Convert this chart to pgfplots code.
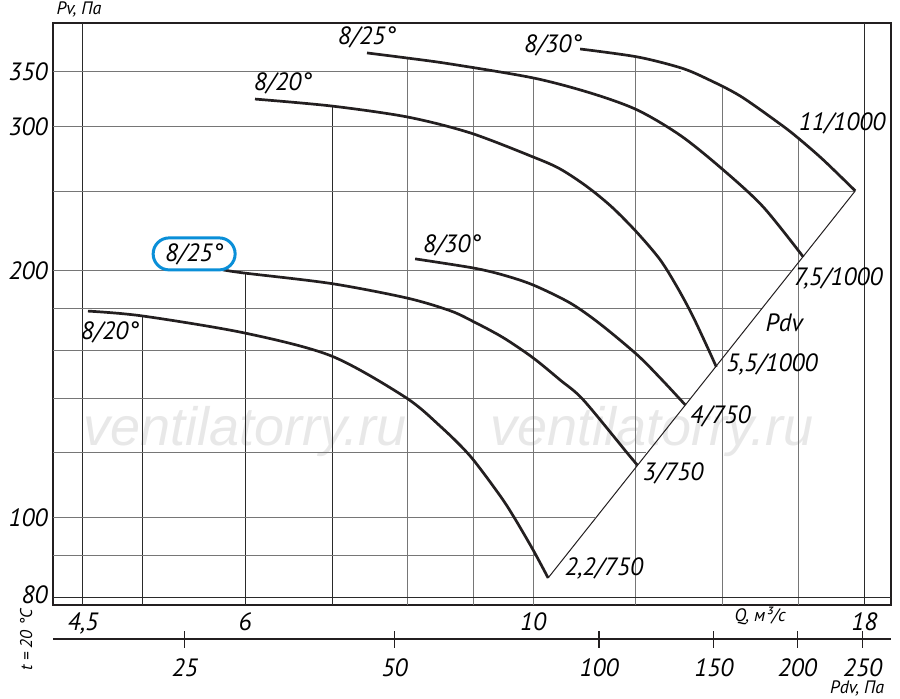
\documentclass[border=0pt]{standalone}
\usepackage{fontspec}
\setmainfont{PT Sans}
\newfontfamily\wmfont{Liberation Sans}
\usepackage{pgfplots}
\pgfplotsset{compat=1.18}
\definecolor{crv}{HTML}{231F20}
\definecolor{grd}{HTML}{767676}
\definecolor{grk}{HTML}{2A2A2A}
\definecolor{blu}{HTML}{0A8FD8}
\newcommand\lf{\fontsize{12.5}{15}\selectfont\itshape}
\newcommand\smf{\fontsize{9}{11}\selectfont\itshape}
\begin{document}
\begin{tikzpicture}[font=\itshape]
\path[use as bounding box] (-26.5pt,-46.5pt) rectangle (423.5pt,302.5pt);
\begin{axis}[
  name=main,
  at={(0pt,0pt)}, anchor=south west,
  scale only axis, width=419pt, height=291pt,
  xmode=log, ymode=log,
  xmin=4.267, xmax=18.87, ymin=78.33, ymax=401.1,
  clip=false,
  axis line style={line width=0.8pt, crv},
  xtick={4.5,6,10,18}, xticklabels={{4,5},6,10,18},
  ytick={80,100,200,300,350}, yticklabels={\raisebox{2.5pt}{80},100,200,300,350},
  major tick length=0pt, minor tick length=0pt,
  xticklabel style={font=\lf, anchor=north, inner sep=0pt, yshift=-3.5pt},
  yticklabel style={font=\lf, anchor=east, inner sep=0pt, xshift=-2.5pt},
]
% watermark
\node[anchor=base west, inner sep=0pt, text=black!9, font={\fontsize{27}{30}\wmfont\itshape}] at (axis cs:4.5,122.7) {ventilatorry.ru};
\node[anchor=base west, inner sep=0pt, text=black!9, font={\fontsize{27}{30}\wmfont\itshape}] at (axis cs:9.265,122.7) {ventilatorry.ru};
% vertical grid
\addplot[grk, line width=0.5pt] coordinates {(4.5,78.33) (4.5,401.1)};
\addplot[grk, line width=0.5pt] coordinates {(5,78.33) (5,176.3)};
\addplot[grk, line width=0.5pt] coordinates {(6,78.33) (6,198.9)};
\addplot[grk, line width=0.5pt] coordinates {(7,78.33) (7,317.8)};
\addplot[grd, line width=0.5pt] coordinates {(8,78.33) (8,363.6)};
\addplot[grd, line width=0.5pt] coordinates {(9,78.33) (9,356)};
\addplot[grd, line width=0.5pt] coordinates {(10,78.33) (10,343)};
\addplot[grd, line width=0.5pt] coordinates {(12,78.33) (12,364)};
\addplot[grd, line width=0.5pt] coordinates {(14,78.33) (14,334.2)};
\addplot[grd, line width=0.5pt] coordinates {(16,78.33) (16,290.5)};
\addplot[grk, line width=0.5pt] coordinates {(18,78.33) (18,401.1)};
% horizontal grid
\addplot[grk, line width=0.5pt] coordinates {(4.267,80) (18.87,80)};
\addplot[grd, line width=0.5pt] coordinates {(4.267,90) (10.07,90)};
\addplot[grd, line width=0.5pt] coordinates {(4.267,100) (11.16,100)};
\addplot[grd, line width=0.5pt] coordinates {(4.267,120) (12.22,120)};
\addplot[grd, line width=0.5pt] coordinates {(4.267,140) (13.24,140)};
\addplot[grd, line width=0.5pt] coordinates {(4.267,160) (14.14,160)};
\addplot[grd, line width=0.5pt] coordinates {(4.267,180) (15.02,180)};
\addplot[grd, line width=0.5pt] coordinates {(4.267,200) (15.80,200)};
\addplot[grd, line width=0.5pt] coordinates {(4.267,250) (17.71,250)};
\addplot[grd, line width=0.5pt] coordinates {(4.267,300) (15.50,300)};
\addplot[grd, line width=0.5pt] coordinates {(4.267,350) (13.00,350)};
% Pdv diagonal
\addplot[crv, line width=0.5pt] coordinates {(10.27,84.5) (17.71,250.4)};
% curves
\addplot[crv, line width=1.35pt, smooth] coordinates {
(4.540,178.7) (4.996,176.3) (5.988,168.1) (6.988,157.6) (7.968,140.4)
(8.479,129.4) (8.942,119.0) (9.432,106.4) (9.674,100.0) (10.0,91.4) (10.27,84.5)};
\addplot[crv, line width=1.35pt, smooth] coordinates {
(5.769,200.6) (5.988,198.9) (6.988,193.1) (7.995,185.4) (8.630,178.9) (8.989,173.6)
(9.481,165.9) (10.0,156.7) (10.49,147.3) (10.93,139.3) (11.816,120.0) (12.03,116.0)};
\addplot[crv, line width=1.35pt, smooth] coordinates {
(8.111,206.9) (8.989,201.7) (9.481,197.8) (10.0,192.3) (10.68,182.8) (11.26,172.4)
(12.03,158.0) (12.57,147.3) (13.10,137.3)};
\addplot[crv, line width=1.35pt, smooth] coordinates {
(6.106,324.0) (6.988,317.8) (7.995,308.2) (8.942,294.7) (10.0,275.4) (10.49,266.3)
(11.01,253.2) (11.506,239.1) (12.03,222.6) (12.53,206.3) (12.91,191.2) (13.26,176.8) (13.62,161.6) (13.84,152.8)};
\addplot[crv, line width=1.35pt, smooth] coordinates {
(7.448,368.8) (7.995,363.6) (8.630,357.6) (10.0,343.8) (11.07,329.6) (12.03,314.2)
(13.00,292.2) (14.01,265.6) (15.04,239.4) (16.15,208.0)};
\addplot[crv, line width=1.35pt, smooth] coordinates {
(10.87,372.9) (12.03,364.7) (13.00,353.6) (13.62,342.8) (14.44,326.8) (15.50,302.1)
(16.00,290.5) (16.73,273.2) (17.71,250.4)};
% curve labels
\node[font=\lf] at (axis cs:7.448,385.8) {8/25°};
\node[font=\lf] at (axis cs:6.417,338.1) {8/20°};
\node[font=\lf] at (axis cs:10.36,377.1) {8/30°};
\node[font=\lf] at (axis cs:17.30,303.0) {11/1000};
\node[font=\lf] at (axis cs:17.18,195.6) {7,5/1000};
\node[font=\lf] at (axis cs:15.61,172.8) {Pdv};
\node[font=\lf] at (axis cs:15.28,153.7) {5,5/1000};
\node[font=\lf] at (axis cs:13.94,133.1) {4/750};
\node[font=\lf] at (axis cs:12.82,113.2) {3/750};
\node[font=\lf] at (axis cs:11.34,86.7) {2,2/750};
\node[font=\lf] at (axis cs:8.661,214.6) {8/30°};
\node[font=\lf, draw=blu, fill=white, line width=1.5pt, rounded corners=8pt, minimum width=41pt, minimum height=16pt, inner sep=1pt] at (axis cs:5.481,209.8) {8/25°};
\node[font=\lf] at (axis cs:4.721,168.5) {8/20°};
% axis texts
\node[font=\smf] at (axis cs:4.469,416.1) {Pv, Па};
\node[font=\smf] at (axis cs:14.96,75.96) {Q, м³/с};
\node[font=\smf] at (axis cs:17.77,61.9) {Pdv, Па};
\node[font={\fontsize{8.5}{10}\selectfont\itshape}, rotate=90] at (axis cs:4.068,71.0) {t = 20 °C};
\end{axis}
\begin{axis}[
  at={(0pt,-17pt)}, anchor=south west,
  scale only axis, width=419pt, height=10pt,
  xmode=log, xmin=4.267, xmax=18.87, ymin=0, ymax=1,
  axis x line=bottom, axis y line=none,
  axis line style={-, line width=0.8pt, crv},
  every outer x axis line/.append style={-},
  xtick={5.391,7.824,11.24,13.78,15.98,17.94},
  xticklabels={25,50,100,150,200,250},
  tick align=center, major tick length=8.5pt, minor tick length=0pt,
  tick style={crv, line width=0.6pt},
  xticklabel style={font=\lf, anchor=north, inner sep=0pt, yshift=-5.5pt},
]
\addplot[draw=none] coordinates {(5,0.5)};
\end{axis}
\end{tikzpicture}
\end{document}
